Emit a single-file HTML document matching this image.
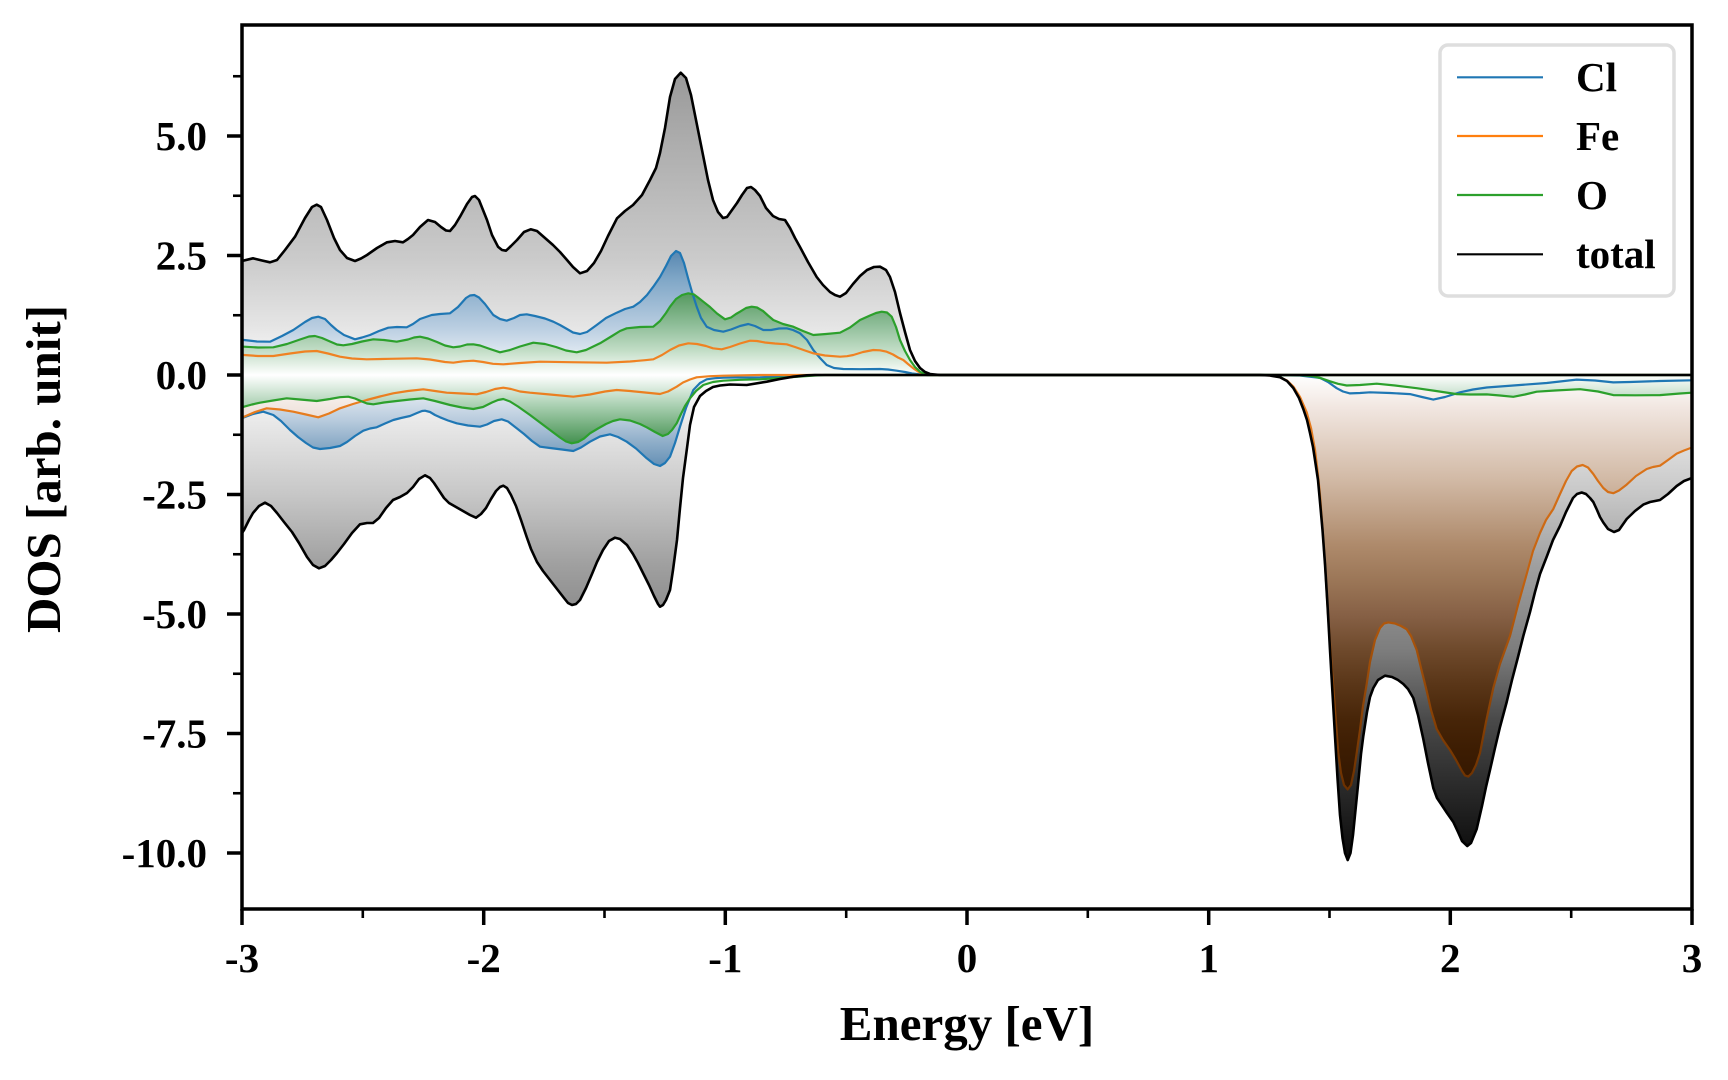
<!DOCTYPE html>
<html>
<head>
<meta charset="utf-8">
<style>
  html, body { margin: 0; padding: 0; background: #ffffff; }
  svg { display: block; }
  text { font-family: "Liberation Serif", "Times New Roman", serif; font-weight: bold; fill: #000; }
</style>
</head>
<body>
<svg width="1728" height="1080" viewBox="0 0 1728 1080" xmlns="http://www.w3.org/2000/svg">
  <defs>
    <clipPath id="plotclip"><rect x="242" y="25" width="1450" height="884"/></clipPath>
    <linearGradient id="gTotTop" gradientUnits="userSpaceOnUse" x1="0" y1="375" x2="0" y2="73">
      <stop offset="0" stop-color="#ffffff"/>
      <stop offset="0.16" stop-color="#e5e5e5"/>
      <stop offset="0.38" stop-color="#cbcbcb"/>
      <stop offset="0.56" stop-color="#bdbdbd"/>
      <stop offset="0.78" stop-color="#acacac"/>
      <stop offset="1" stop-color="#999999"/>
    </linearGradient>
    <linearGradient id="gTotBot" gradientUnits="userSpaceOnUse" x1="0" y1="375" x2="0" y2="860">
      <stop offset="0" stop-color="#ffffff"/>
      <stop offset="0.246" stop-color="#c7c7c7"/>
      <stop offset="0.39" stop-color="#a0a0a0"/>
      <stop offset="0.567" stop-color="#7d7d7d"/>
      <stop offset="0.71" stop-color="#4a4a4a"/>
      <stop offset="0.85" stop-color="#2a2a2a"/>
      <stop offset="1" stop-color="#0a0a0a"/>
    </linearGradient>
    <linearGradient id="gClTop" gradientUnits="userSpaceOnUse" x1="0" y1="375" x2="0" y2="251">
      <stop offset="0" stop-color="#ffffff"/>
      <stop offset="0.38" stop-color="#bacee1"/>
      <stop offset="0.77" stop-color="#80a7c7"/>
      <stop offset="1" stop-color="#5787b0"/>
    </linearGradient>
    <linearGradient id="gClBot" gradientUnits="userSpaceOnUse" x1="0" y1="375" x2="0" y2="466">
      <stop offset="0" stop-color="#ffffff"/>
      <stop offset="0.5" stop-color="#b8cbdd"/>
      <stop offset="0.71" stop-color="#93b1cb"/>
      <stop offset="1" stop-color="#6590b5"/>
    </linearGradient>
    <linearGradient id="gOTop" gradientUnits="userSpaceOnUse" x1="0" y1="375" x2="0" y2="293">
      <stop offset="0" stop-color="#ffffff"/>
      <stop offset="0.3" stop-color="#c2ddc6"/>
      <stop offset="0.63" stop-color="#8cbc96"/>
      <stop offset="1" stop-color="#55995f"/>
    </linearGradient>
    <linearGradient id="gOBot" gradientUnits="userSpaceOnUse" x1="0" y1="375" x2="0" y2="444">
      <stop offset="0" stop-color="#ffffff"/>
      <stop offset="0.45" stop-color="#a8cfb0"/>
      <stop offset="1" stop-color="#42904e"/>
    </linearGradient>
    <linearGradient id="gFeBot" gradientUnits="userSpaceOnUse" x1="0" y1="375" x2="0" y2="790">
      <stop offset="0" stop-color="#ffffff"/>
      <stop offset="0.08" stop-color="#f1e6e0"/>
      <stop offset="0.25" stop-color="#d2baa6"/>
      <stop offset="0.41" stop-color="#ae8a6b"/>
      <stop offset="0.5" stop-color="#9a7556"/>
      <stop offset="0.58" stop-color="#866045"/>
      <stop offset="0.66" stop-color="#6f4a2c"/>
      <stop offset="0.745" stop-color="#5a3618"/>
      <stop offset="0.83" stop-color="#472508"/>
      <stop offset="0.91" stop-color="#3c1c02"/>
      <stop offset="1" stop-color="#321600"/>
    </linearGradient>
    <linearGradient id="gFeLine" gradientUnits="userSpaceOnUse" x1="0" y1="375" x2="0" y2="790">
      <stop offset="0" stop-color="#ef8222"/>
      <stop offset="0.5" stop-color="#c0600e"/>
      <stop offset="1" stop-color="#6a3000"/>
    </linearGradient>
  </defs>

  <g clip-path="url(#plotclip)">
    <!-- total top fill -->
    <path fill="url(#gTotTop)" d="M242,375 L242,261 253,258.3 262,260.5 270,262.3 277,260 285,250 295,236.7 305,218 312,207 316.7,204.7 321,207 327,220 334,238 340,250 347,258 355,261 361,258.5 367,255 377,248 387,242.3 395,241 403,242.3 408,239 413,235 420,227 428,220 435,222 441,227 446,230.5 450,231 455,225 460,216.7 467,204 472,197 475,196 479,200 483,210 487,220 492,235 498,246.7 502,250 506,250.7 511,246 517,240 524,232 530.7,229.3 537,231 545,238 553,245 560,252 567,260 573,267 580,273.3 587,271 594,263 601,251 608,236 617,218.3 625,211 633,205 642,195 650,180 656,168 660,153 665,128 670,97 675,79 680.7,72.7 686,78 691,95 697,125 703,155 708,180 713,200 718,212 723,218 727,217 732,210 737,203 742,195 747,188 751,187 755,190 760,196 766,208 773,216 779,219 785,220 790,228 795,238 800,247 808,262 816.7,277 823,285 830,292 835,295 840,296.7 846,293 853,284 860,276 867,270 874,267 880,266.7 886,270 890,277 895,292 900,313 905,332 910,350 915,361 920,368 925,372 930,374 940,375 Z"/>
    <!-- total bottom fill -->
    <path fill="url(#gTotBot)" d="M242,375 L242,533 244,530 249,520 253,513 259,506 265,502.7 271,506 277,513 284,522 292,532 299,543 307,557 313,565 319,568.3 325,566 331,560 337,553 344,544 352,533 360,524.3 367,523 373,523 379,518 386,508 393,500 400,497 407,493 413,487 419,479 425,475.3 430,478 434,483 438,489 444,498 449,503 456,507 463,511 470,515 476,517.7 481,514 486,508 491,499 496,491 500,487 503.3,485.7 507,488 511,495 516,506 521,520 526.7,537 531,549 537,562 543,571 550,580 557,589 564,598 568,603 572,605 576,604 580,600 586,588 592,574 597,562 603,550 609,541 615,537.7 620,539 627,545 633,554 638,563 643,573 649,585 654,596 658,604 660,606.7 663,605 666,600 670,590 673,570 677,540 680,508 683,478 687,448 690,425 694,407 700,396 706,391 713,387 720,385.5 730,384.5 746.7,385 766.7,381.7 780,379 793.3,376.7 806.7,375.3 815,375 L1260,375 1270,375.5 1280,377.2 1287,381 1293.3,388 1299,398 1303.3,409 1307,420 1310,433 1313,447 1315,460 1318,480 1320,502 1322.5,530 1325,564 1327.5,605 1330,650 1332.5,693 1335,736 1337.5,778 1340,815 1342.5,838 1345,853 1347.7,860 1350.5,853 1353,835 1355,815 1358,785 1361,754 1363.3,736 1367,712 1370,697 1373.3,688 1378,680 1385,675.7 1392,677 1398,680 1403.3,684 1408,689 1413.3,698 1418,715 1423.3,739 1428,763 1433.3,788 1437,798 1441.7,805 1447,813 1453.3,822 1458,832 1462,841 1467.3,846 1471,843 1476.7,829 1482,806 1486,787 1490,770 1495,748 1500,727 1506.7,702 1512,680 1518,657 1523.3,636 1530,612 1535,592 1540,574 1547,556 1553,540 1560,526 1566,512 1573,498 1577,494 1581.7,492.5 1586,494 1590,498 1593.3,502 1597,510 1600,517 1603.3,522.5 1608,529 1614,532 1619,530 1626.7,519 1635,511 1643.3,504.6 1650,502 1660,500 1668,494 1676.7,486 1684,481 1692,478 1692,375 Z"/>
    <!-- Cl top fill -->
    <path fill="url(#gClTop)" d="M242,375 L242,340 244,340 257,341.5 270,341.7 282,336 293.3,330 305,322 312,318 318.3,316.7 325,319 331,325 336.7,330 344,335 355,339.3 362,337.5 370,335 379,331 388.3,327.7 397,327 406.7,327.3 413,324 420,319 431.7,315 440,314 450,313.3 458,307 466,298 470,295.5 474.3,295 479,297.5 485,304 493.3,315 500,319 506.7,320.7 514,318 520,315 526.7,314.3 535,316 545,318.5 553.3,321.7 560,325 567,329 573,332.5 580,334 587,332 596.7,325 606,318 616.7,312.7 625,309 633.3,306.7 640,302 647,295 653.3,286.7 660,277 666,266 671,256 676,251 680,253 684,263 688,278 692,292 696.7,306.7 701,318 706.7,326.7 714,330 723.3,331.7 731,329.5 740,326 748.3,324 755,326 763.3,330 771,330 779,328.5 786.7,328.3 793,330 800,333.3 807,340 813.3,350 820,358 826.7,365 834,368 843.3,369 860,369.2 880,369 888,369.5 896.7,370.7 905,372 912,373.5 920,374.3 927,375 Z"/>
    <!-- Cl bottom fill -->
    <path fill="url(#gClBot)" d="M242,375 L242,418 244,417.3 253,414 263.3,411.7 273.3,415 281,421 290,430 298,437 306,443 313,447.5 320,449 330,448 340,446 347,442 355,436 363.3,430.7 370,428.5 376.7,427.3 385,423.5 393.3,420 401,418 410,416 417,413 422,411 425,410.7 430,412 435,415 440,417.3 448,420.5 456.7,423.3 468,425.5 480,426.7 487,424.5 494,421 501.7,419.3 508,421.5 516.7,428.3 524,434 532,441 540,446.7 550,448 562,449.5 573.3,451 581,447.5 590,441.7 600,436.5 610,434.3 618,437 626.7,441.7 636,448.5 646.7,458.3 654,464 660,466 665,463 670,456.7 675,443 680,426.7 686,408 693.3,390 700,383 706.7,379.3 715,378.2 723.3,377.7 760,377.3 780,376.5 800,375.5 815,375 L1260,375 1300,375.5 1320,377.9 1328,382 1336.7,388.2 1343,391.5 1350,393.4 1360,393 1370,392.3 1390,393 1410,394.1 1422,397 1433.3,399.6 1445,397 1460,392.3 1473,389.5 1486.7,387.5 1500,386.5 1520,385 1546.7,383 1560,381.5 1576.7,379.6 1595,380.5 1613.3,382.4 1630,382 1660,381 1692,380.3 1692,375 Z"/>
    <!-- Fe bottom fill -->
    <path fill="url(#gFeBot)" d="M242,375 L242,417.5 244,416.7 255,412 266.7,408.3 280,409.5 293.3,411.7 306,414.5 318.3,417.3 329,413.5 340,408.3 353,404 366.7,400 380,396.5 393.3,393.3 408,391 423.3,389.3 435,391 446.7,392.7 462,393.5 476.7,394.3 486,392 495,389 503.3,387.7 511,389 520,391.5 530,392.7 550,394.5 573.3,396.7 590,394.5 605,391.5 616.7,390 630,391 645,392.5 660,394 668,391.5 676.7,386.7 683,382.5 690,379.5 696.7,377.3 710,376.2 723.3,375.7 760,375 L1260,375 1270,375.5 1280,377.2 1287,380.5 1293.3,386.5 1300,397 1306.7,412.3 1311,428 1315,450 1318,475 1320,495 1322.5,528 1325,564 1328,614 1331.7,667 1335,710 1338.3,753 1341,773 1344,785 1347.7,789.4 1351,785 1354,771 1356.7,753 1360,730 1363,706 1366.7,684 1370,662 1375,640 1380,628 1384,623.5 1388.3,622.4 1395,623.5 1401,626 1406.7,629.3 1411,636 1416.7,650 1421,668 1426.7,691 1431,710 1436.7,729 1443,740 1450,750 1456,760 1462,771 1465,775.5 1468.3,776.6 1472,773 1476,765 1480,753 1486,722 1493.3,688 1500,664 1510,636 1518,605 1526.7,574 1533,551 1540,533 1546,520 1553.3,509 1560,494 1566,481 1571.7,471 1577,466.5 1582.7,465 1588,467.5 1593.3,474 1598,481 1603.3,488 1608,492 1613.3,493.2 1619,490.5 1626.7,484.6 1636,476 1646.7,469 1653,467 1660,465.7 1668,460 1676.7,453.6 1684,450.5 1692,447.5 1692,375 Z"/>
    <!-- O top fill -->
    <path fill="url(#gOTop)" d="M242,375 L242,346.7 244,346.7 258,347.5 273.3,347.3 287,344 300,339.5 309,336.5 315,336 322,338 330,341.5 337,344.5 343.3,345.3 352,344 362,341.5 373.3,339.3 384,340 396.7,341.7 408,339.5 414,337.5 420,336.7 428,338.5 437,342 445,345.5 453.3,347.3 460,346.5 467,344.5 473.3,344.3 480,345.5 490,349 500,352.3 510,350 520,346.5 533.3,342.7 545,344 556,347 566,350.5 576.7,352.3 586,350 600,343.3 612,336 620,331 626.7,328.3 640,327 653.3,326.7 660,321 666,313 670,306.7 676,299 682,295 688.3,293.3 694,294.5 698,297.5 703.3,301.7 710,307 717,313.5 725,319.3 731,317.5 736,314 740,311.7 746,308 751.7,306.7 757,307.5 763,311 768,315.5 773.3,320 783,324 793.3,326.7 803,331 813.3,335 826,334 840,332.7 850,327.5 860,320 870,315.5 876,313 881.7,311.7 887,312.5 891.7,316.7 896,327 900,340 905,351 910,360 915,367 920,371.7 927,375 Z"/>
    <!-- O bottom fill -->
    <path fill="url(#gOBot)" d="M242,375 L242,407.5 244,406.7 252,404.5 260,402.7 273,400.5 286.7,398.3 300,399.5 316.7,401 330,399 340,397.2 348.3,396.7 355,398.5 362,401.5 367,403.5 373.3,404.3 384,402.5 396.7,401 410,399.5 423.3,398.3 435,401 450,405 462,407.5 473.3,409 483,407 492,402.5 498,400 503.3,399 510,401.5 518,406.5 530,415 540,422.5 550,430 560,437.5 566,441.5 571.7,443.3 578,442 584,438.5 590,433.3 598,428.5 606,424 613,421 620,419.3 630,420.5 640,424 646.7,427.3 655,432 662.7,436 668,434 672,430 676.7,423.3 681,414 685,406 690,398.3 696,391 703.3,385 713,382 723.3,380.7 740,379.8 760,379.3 780,378 800,376.5 815,375.5 825,375 L1260,375 1300,375.2 1313.3,376.2 1322,378.5 1330,381.3 1338,383.8 1346.7,385.5 1360,385 1376.7,383.7 1395,385.5 1416.7,388.2 1436,391 1456.7,394.1 1470,394.5 1486.7,394.4 1500,395.5 1513.3,396.8 1525,394.5 1536.7,391.7 1555,390.5 1580,389.2 1598,391.5 1613.3,395.1 1635,395.3 1660,395.1 1680,393.5 1692,392.7 1692,375 Z"/>

    <g fill="none" stroke-linejoin="round" stroke-linecap="round">
      <!-- Cl lines -->
      <path stroke="#1f77b4" stroke-width="2.2" d="M242,340 L244,340 257,341.5 270,341.7 282,336 293.3,330 305,322 312,318 318.3,316.7 325,319 331,325 336.7,330 344,335 355,339.3 362,337.5 370,335 379,331 388.3,327.7 397,327 406.7,327.3 413,324 420,319 431.7,315 440,314 450,313.3 458,307 466,298 470,295.5 474.3,295 479,297.5 485,304 493.3,315 500,319 506.7,320.7 514,318 520,315 526.7,314.3 535,316 545,318.5 553.3,321.7 560,325 567,329 573,332.5 580,334 587,332 596.7,325 606,318 616.7,312.7 625,309 633.3,306.7 640,302 647,295 653.3,286.7 660,277 666,266 671,256 676,251 680,253 684,263 688,278 692,292 696.7,306.7 701,318 706.7,326.7 714,330 723.3,331.7 731,329.5 740,326 748.3,324 755,326 763.3,330 771,330 779,328.5 786.7,328.3 793,330 800,333.3 807,340 813.3,350 820,358 826.7,365 834,368 843.3,369 860,369.2 880,369 888,369.5 896.7,370.7 905,372 912,373.5 920,374.3 927,375 1692,375"/>
      <path stroke="#1f77b4" stroke-width="2.2" d="M242,418 L244,417.3 253,414 263.3,411.7 273.3,415 281,421 290,430 298,437 306,443 313,447.5 320,449 330,448 340,446 347,442 355,436 363.3,430.7 370,428.5 376.7,427.3 385,423.5 393.3,420 401,418 410,416 417,413 422,411 425,410.7 430,412 435,415 440,417.3 448,420.5 456.7,423.3 468,425.5 480,426.7 487,424.5 494,421 501.7,419.3 508,421.5 516.7,428.3 524,434 532,441 540,446.7 550,448 562,449.5 573.3,451 581,447.5 590,441.7 600,436.5 610,434.3 618,437 626.7,441.7 636,448.5 646.7,458.3 654,464 660,466 665,463 670,456.7 675,443 680,426.7 686,408 693.3,390 700,383 706.7,379.3 715,378.2 723.3,377.7 760,377.3 780,376.5 800,375.5 815,375 L1260,375 1300,375.5 1320,377.9 1328,382 1336.7,388.2 1343,391.5 1350,393.4 1360,393 1370,392.3 1390,393 1410,394.1 1422,397 1433.3,399.6 1445,397 1460,392.3 1473,389.5 1486.7,387.5 1500,386.5 1520,385 1546.7,383 1560,381.5 1576.7,379.6 1595,380.5 1613.3,382.4 1630,382 1660,381 1692,380.3"/>
      <!-- Fe lines -->
      <path stroke="url(#gFeLine)" stroke-width="2.2" d="M242,355 L244,355 258,356 273.3,356 290,353.5 305,351.5 316.7,351 328,353.5 340,356.7 352,358.5 366.7,359.3 390,358.8 416.7,358.3 430,359.5 445,362 453.3,362.7 463,361.3 473.3,360.7 483,362 493,363.8 503.3,364.3 520,363 540,361.7 570,362.2 606.7,362.7 630,361.5 645,360.2 653.3,359.3 662,355 670,350 679,345.5 688.3,343.3 697,344 706,346 713,348.3 721.7,349.3 730,347 740,343.5 750,340.7 757,341 765,342.5 775,343.5 786.7,344.3 795,347 805,350.5 813.3,353.3 825,355.5 840,356.7 847,356.2 853.3,355 863,352 873.3,350 880,350.3 886.7,351.7 893,354.5 898,357.5 903.3,360 908,364 913.3,368.3 918,371.5 923.3,374 930,375 1692,375"/>
      <path stroke="url(#gFeLine)" stroke-width="2.2" d="M242,417.5 L244,416.7 255,412 266.7,408.3 280,409.5 293.3,411.7 306,414.5 318.3,417.3 329,413.5 340,408.3 353,404 366.7,400 380,396.5 393.3,393.3 408,391 423.3,389.3 435,391 446.7,392.7 462,393.5 476.7,394.3 486,392 495,389 503.3,387.7 511,389 520,391.5 530,392.7 550,394.5 573.3,396.7 590,394.5 605,391.5 616.7,390 630,391 645,392.5 660,394 668,391.5 676.7,386.7 683,382.5 690,379.5 696.7,377.3 710,376.2 723.3,375.7 760,375 L1260,375 1270,375.5 1280,377.2 1287,380.5 1293.3,386.5 1300,397 1306.7,412.3 1311,428 1315,450 1318,475 1320,495 1322.5,528 1325,564 1328,614 1331.7,667 1335,710 1338.3,753 1341,773 1344,785 1347.7,789.4 1351,785 1354,771 1356.7,753 1360,730 1363,706 1366.7,684 1370,662 1375,640 1380,628 1384,623.5 1388.3,622.4 1395,623.5 1401,626 1406.7,629.3 1411,636 1416.7,650 1421,668 1426.7,691 1431,710 1436.7,729 1443,740 1450,750 1456,760 1462,771 1465,775.5 1468.3,776.6 1472,773 1476,765 1480,753 1486,722 1493.3,688 1500,664 1510,636 1518,605 1526.7,574 1533,551 1540,533 1546,520 1553.3,509 1560,494 1566,481 1571.7,471 1577,466.5 1582.7,465 1588,467.5 1593.3,474 1598,481 1603.3,488 1608,492 1613.3,493.2 1619,490.5 1626.7,484.6 1636,476 1646.7,469 1653,467 1660,465.7 1668,460 1676.7,453.6 1684,450.5 1692,447.5"/>
      <!-- O lines -->
      <path stroke="#2ca02c" stroke-width="2.2" d="M242,346.7 L244,346.7 258,347.5 273.3,347.3 287,344 300,339.5 309,336.5 315,336 322,338 330,341.5 337,344.5 343.3,345.3 352,344 362,341.5 373.3,339.3 384,340 396.7,341.7 408,339.5 414,337.5 420,336.7 428,338.5 437,342 445,345.5 453.3,347.3 460,346.5 467,344.5 473.3,344.3 480,345.5 490,349 500,352.3 510,350 520,346.5 533.3,342.7 545,344 556,347 566,350.5 576.7,352.3 586,350 600,343.3 612,336 620,331 626.7,328.3 640,327 653.3,326.7 660,321 666,313 670,306.7 676,299 682,295 688.3,293.3 694,294.5 698,297.5 703.3,301.7 710,307 717,313.5 725,319.3 731,317.5 736,314 740,311.7 746,308 751.7,306.7 757,307.5 763,311 768,315.5 773.3,320 783,324 793.3,326.7 803,331 813.3,335 826,334 840,332.7 850,327.5 860,320 870,315.5 876,313 881.7,311.7 887,312.5 891.7,316.7 896,327 900,340 905,351 910,360 915,367 920,371.7 927,375 1692,375"/>
      <path stroke="#2ca02c" stroke-width="2.2" d="M242,407.5 L244,406.7 252,404.5 260,402.7 273,400.5 286.7,398.3 300,399.5 316.7,401 330,399 340,397.2 348.3,396.7 355,398.5 362,401.5 367,403.5 373.3,404.3 384,402.5 396.7,401 410,399.5 423.3,398.3 435,401 450,405 462,407.5 473.3,409 483,407 492,402.5 498,400 503.3,399 510,401.5 518,406.5 530,415 540,422.5 550,430 560,437.5 566,441.5 571.7,443.3 578,442 584,438.5 590,433.3 598,428.5 606,424 613,421 620,419.3 630,420.5 640,424 646.7,427.3 655,432 662.7,436 668,434 672,430 676.7,423.3 681,414 685,406 690,398.3 696,391 703.3,385 713,382 723.3,380.7 740,379.8 760,379.3 780,378 800,376.5 815,375.5 825,375 L1260,375 1300,375.2 1313.3,376.2 1322,378.5 1330,381.3 1338,383.8 1346.7,385.5 1360,385 1376.7,383.7 1395,385.5 1416.7,388.2 1436,391 1456.7,394.1 1470,394.5 1486.7,394.4 1500,395.5 1513.3,396.8 1525,394.5 1536.7,391.7 1555,390.5 1580,389.2 1598,391.5 1613.3,395.1 1635,395.3 1660,395.1 1680,393.5 1692,392.7"/>
      <!-- total lines -->
      <path stroke="#000000" stroke-width="2.6" d="M242,261 L253,258.3 262,260.5 270,262.3 277,260 285,250 295,236.7 305,218 312,207 316.7,204.7 321,207 327,220 334,238 340,250 347,258 355,261 361,258.5 367,255 377,248 387,242.3 395,241 403,242.3 408,239 413,235 420,227 428,220 435,222 441,227 446,230.5 450,231 455,225 460,216.7 467,204 472,197 475,196 479,200 483,210 487,220 492,235 498,246.7 502,250 506,250.7 511,246 517,240 524,232 530.7,229.3 537,231 545,238 553,245 560,252 567,260 573,267 580,273.3 587,271 594,263 601,251 608,236 617,218.3 625,211 633,205 642,195 650,180 656,168 660,153 665,128 670,97 675,79 680.7,72.7 686,78 691,95 697,125 703,155 708,180 713,200 718,212 723,218 727,217 732,210 737,203 742,195 747,188 751,187 755,190 760,196 766,208 773,216 779,219 785,220 790,228 795,238 800,247 808,262 816.7,277 823,285 830,292 835,295 840,296.7 846,293 853,284 860,276 867,270 874,267 880,266.7 886,270 890,277 895,292 900,313 905,332 910,350 915,361 920,368 925,372 930,374 940,375 1692,375"/>
      <path stroke="#000000" stroke-width="2.6" d="M242,533 L244,530 249,520 253,513 259,506 265,502.7 271,506 277,513 284,522 292,532 299,543 307,557 313,565 319,568.3 325,566 331,560 337,553 344,544 352,533 360,524.3 367,523 373,523 379,518 386,508 393,500 400,497 407,493 413,487 419,479 425,475.3 430,478 434,483 438,489 444,498 449,503 456,507 463,511 470,515 476,517.7 481,514 486,508 491,499 496,491 500,487 503.3,485.7 507,488 511,495 516,506 521,520 526.7,537 531,549 537,562 543,571 550,580 557,589 564,598 568,603 572,605 576,604 580,600 586,588 592,574 597,562 603,550 609,541 615,537.7 620,539 627,545 633,554 638,563 643,573 649,585 654,596 658,604 660,606.7 663,605 666,600 670,590 673,570 677,540 680,508 683,478 687,448 690,425 694,407 700,396 706,391 713,387 720,385.5 730,384.5 746.7,385 766.7,381.7 780,379 793.3,376.7 806.7,375.3 815,375 L1260,375 1270,375.5 1280,377.2 1287,381 1293.3,388 1299,398 1303.3,409 1307,420 1310,433 1313,447 1315,460 1318,480 1320,502 1322.5,530 1325,564 1327.5,605 1330,650 1332.5,693 1335,736 1337.5,778 1340,815 1342.5,838 1345,853 1347.7,860 1350.5,853 1353,835 1355,815 1358,785 1361,754 1363.3,736 1367,712 1370,697 1373.3,688 1378,680 1385,675.7 1392,677 1398,680 1403.3,684 1408,689 1413.3,698 1418,715 1423.3,739 1428,763 1433.3,788 1437,798 1441.7,805 1447,813 1453.3,822 1458,832 1462,841 1467.3,846 1471,843 1476.7,829 1482,806 1486,787 1490,770 1495,748 1500,727 1506.7,702 1512,680 1518,657 1523.3,636 1530,612 1535,592 1540,574 1547,556 1553,540 1560,526 1566,512 1573,498 1577,494 1581.7,492.5 1586,494 1590,498 1593.3,502 1597,510 1600,517 1603.3,522.5 1608,529 1614,532 1619,530 1626.7,519 1635,511 1643.3,504.6 1650,502 1660,500 1668,494 1676.7,486 1684,481 1692,478"/>
    </g>
  </g>

  <!-- legend -->
  <rect x="1440" y="45" width="234" height="251" rx="8" ry="8" fill="#ffffff" stroke="#dedede" stroke-width="3.5"/>
  <line x1="1457" y1="77.3" x2="1543" y2="77.3" stroke="#1f77b4" stroke-width="2.2"/>
  <line x1="1457" y1="136" x2="1543" y2="136" stroke="#ff7f0e" stroke-width="2.2"/>
  <line x1="1457" y1="195" x2="1543" y2="195" stroke="#2ca02c" stroke-width="2.2"/>
  <line x1="1457" y1="254.3" x2="1543" y2="254.3" stroke="#000000" stroke-width="2.2"/>
  <text x="1576" y="91" font-size="41">Cl</text>
  <text x="1576" y="150" font-size="41">Fe</text>
  <text x="1576" y="209" font-size="41">O</text>
  <text x="1576" y="268" font-size="41">total</text>

  <!-- spines -->
  <rect x="242" y="25" width="1450" height="884" fill="none" stroke="#000" stroke-width="3.5"/>

  <!-- y ticks -->
  <g stroke="#000" stroke-width="3.5">
    <line x1="227" y1="136" x2="242" y2="136"/>
    <line x1="227" y1="255.5" x2="242" y2="255.5"/>
    <line x1="227" y1="375" x2="242" y2="375"/>
    <line x1="227" y1="494.5" x2="242" y2="494.5"/>
    <line x1="227" y1="614" x2="242" y2="614"/>
    <line x1="227" y1="733.5" x2="242" y2="733.5"/>
    <line x1="227" y1="853" x2="242" y2="853"/>
  </g>
  <g stroke="#000" stroke-width="2.6">
    <line x1="233" y1="76.25" x2="242" y2="76.25"/>
    <line x1="233" y1="195.75" x2="242" y2="195.75"/>
    <line x1="233" y1="315.25" x2="242" y2="315.25"/>
    <line x1="233" y1="434.75" x2="242" y2="434.75"/>
    <line x1="233" y1="554.25" x2="242" y2="554.25"/>
    <line x1="233" y1="673.75" x2="242" y2="673.75"/>
    <line x1="233" y1="793.25" x2="242" y2="793.25"/>
  </g>
  <!-- x ticks -->
  <g stroke="#000" stroke-width="3.5">
    <line x1="242" y1="909" x2="242" y2="925"/>
    <line x1="483.7" y1="909" x2="483.7" y2="925"/>
    <line x1="725.3" y1="909" x2="725.3" y2="925"/>
    <line x1="967" y1="909" x2="967" y2="925"/>
    <line x1="1208.7" y1="909" x2="1208.7" y2="925"/>
    <line x1="1450.3" y1="909" x2="1450.3" y2="925"/>
    <line x1="1692" y1="909" x2="1692" y2="925"/>
  </g>
  <g stroke="#000" stroke-width="2.6">
    <line x1="362.8" y1="909" x2="362.8" y2="918"/>
    <line x1="604.5" y1="909" x2="604.5" y2="918"/>
    <line x1="846.2" y1="909" x2="846.2" y2="918"/>
    <line x1="1087.8" y1="909" x2="1087.8" y2="918"/>
    <line x1="1329.5" y1="909" x2="1329.5" y2="918"/>
    <line x1="1571.2" y1="909" x2="1571.2" y2="918"/>
  </g>

  <!-- y tick labels -->
  <g font-size="41" text-anchor="end">
    <text x="207" y="150">5.0</text>
    <text x="207" y="269.5">2.5</text>
    <text x="207" y="389">0.0</text>
    <text x="207" y="508.5">-2.5</text>
    <text x="207" y="628">-5.0</text>
    <text x="207" y="747.5">-7.5</text>
    <text x="207" y="867">-10.0</text>
  </g>
  <!-- x tick labels -->
  <g font-size="41" text-anchor="middle">
    <text x="242" y="972">-3</text>
    <text x="483.7" y="972">-2</text>
    <text x="725.3" y="972">-1</text>
    <text x="967" y="972">0</text>
    <text x="1208.7" y="972">1</text>
    <text x="1450.3" y="972">2</text>
    <text x="1692" y="972">3</text>
  </g>

  <!-- axis labels -->
  <text x="967" y="1040" font-size="49" text-anchor="middle">Energy [eV]</text>
  <text transform="translate(60,469) rotate(-90)" font-size="49" text-anchor="middle">DOS [arb. unit]</text>
</svg>
</body>
</html>
